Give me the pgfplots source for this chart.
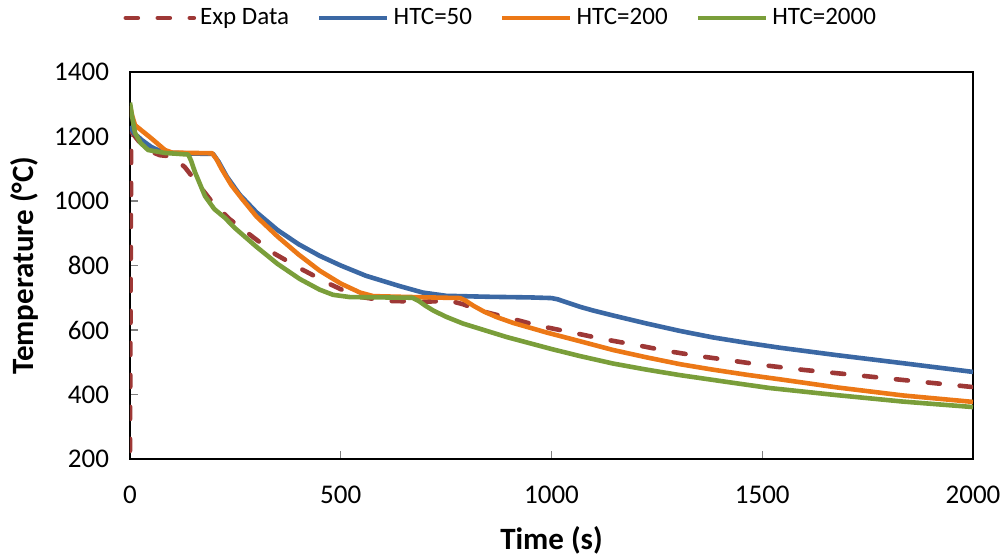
\documentclass[border=0pt]{standalone}
\usepackage{pgfplots}
\pgfplotsset{compat=1.18}
\usepackage{fontspec}
\setmainfont{Carlito}
\definecolor{cblue}{RGB}{59,104,164}
\definecolor{corange}{RGB}{236,120,22}
\definecolor{cgreen}{RGB}{122,158,58}
\definecolor{cred}{RGB}{158,56,54}
\begin{document}
\begin{tikzpicture}
\useasboundingbox (-65pt,-48.5pt) rectangle (439pt,229.5pt);
\begin{axis}[
  scale only axis,
  width=421.5pt, height=193.5pt,
  xmin=0, xmax=2000, ymin=200, ymax=1400,
  xtick={0,500,1000,1500,2000},
  ytick={200,400,...,1400},
  xtick pos=left, ytick pos=left,
  tick align=inside,
  major tick length=4pt,
  tick style={gray, line width=0.6pt},
  axis line style={black, line width=1pt},
  /pgf/number format/assume math mode=true,
  /pgf/number format/set thousands separator={},
  ticklabel style={font=\fontsize{13.5}{16}\selectfont},
  yticklabel style={xshift=-7pt},
  xticklabel style={yshift=-10pt},
  xlabel={Time (s)},
  ylabel={Temperature (°C)},
  label style={font=\fontsize{15.5}{18}\selectfont\bfseries},
  xlabel style={at={(axis description cs:0.5,0)}, anchor=center, yshift=-40.5pt},
  ylabel style={at={([xshift=-53pt]axis description cs:0,0.5)}, anchor=center},
  legend columns=4,
  legend image code/.code={\draw[#1] (0pt,0pt) -- (34pt,0pt);},
  legend style={at={(0.441,1)}, anchor=center, yshift=27pt, draw=none, fill=none,
    font=\fontsize{12.5}{15}\selectfont,
    /tikz/every even column/.append style={column sep=12pt}},
  every axis plot/.append style={line width=2.3pt, line join=round},
]
\addplot[cred, dash pattern=on 6pt off 10pt, line cap=round] coordinates {
(0,225)(3,1215)(36,1160)(71,1142)(100,1138)(130,1105)(154,1065)(190,1005)(235,945)(290,890)(345,835)(405,790)(470,745)(535,705)(610,690)(700,688)(760,690)(790,680)(830,660)(900,637)(970,613)(1050,592)(1122,572)(1203,553)(1274,535)(1345,520)(1423,506)(1502,491)(1600,476)(1700,463)(1834,445)(2000,423)};
\addlegendentry{Exp Data}
\addplot[cblue] coordinates {
(0,1232)(10,1210)(28,1189)(50,1168)(66,1158)(90,1150)(150,1147)(197,1146)(210,1122)(230,1075)(260,1020)(300,965)(350,910)(400,866)(450,830)(500,800)(560,768)(640,736)(695,716)(750,706)(850,703)(950,701)(1000,699)(1015,695)(1040,684)(1070,671)(1100,660)(1146,645)(1226,620)(1305,597)(1383,577)(1464,560)(1542,545)(1677,522)(1834,497)(2000,470)};
\addlegendentry{HTC=50}
\addplot[corange] coordinates {
(0,1295)(5,1265)(12,1235)(50,1195)(83,1158)(100,1150)(195,1148)(205,1130)(218,1098)(240,1050)(265,1008)(300,952)(350,890)(400,834)(450,784)(500,744)(546,716)(577,705)(640,703)(783,699)(795,692)(815,675)(840,657)(870,640)(909,622)(989,592)(1068,565)(1146,538)(1226,515)(1305,494)(1383,477)(1464,461)(1542,447)(1677,422)(1834,397)(2000,377)};
\addlegendentry{HTC=200}
\addplot[cgreen] coordinates {
(0,1305)(5,1262)(12,1211)(25,1180)(43,1158)(83,1149)(138,1144)(145,1125)(154,1090)(178,1015)(200,975)(225,948)(249,916)(300,858)(350,805)(403,758)(450,725)(482,709)(522,702)(600,701)(670,700)(685,690)(700,676)(720,660)(750,641)(790,620)(894,578)(1000,541)(1068,519)(1146,496)(1226,477)(1305,460)(1400,442)(1518,420)(1677,398)(1834,378)(2000,361)};
\addlegendentry{HTC=2000}
\end{axis}
\end{tikzpicture}
\end{document}
